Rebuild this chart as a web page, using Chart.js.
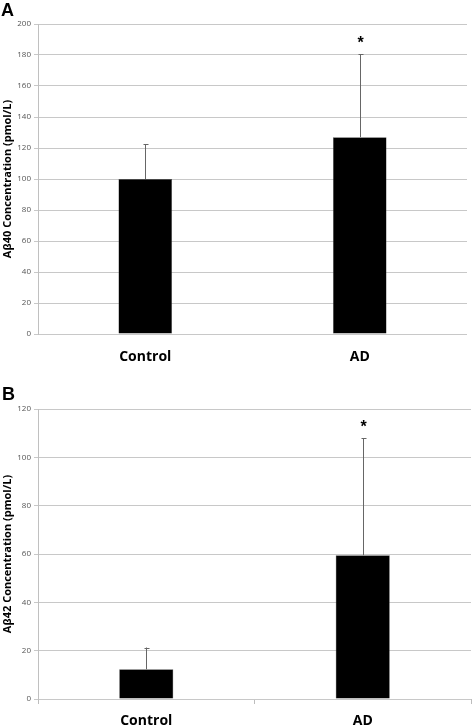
<!DOCTYPE html>
<html>
<head>
<meta charset="utf-8">
<script src="https://cdn.jsdelivr.net/npm/chart.js@4/dist/chart.umd.min.js"></script>
<style>
  html, body { margin:0; padding:0; background:#fff; width:472px; height:726px; overflow:hidden; }
  .wrap { position:absolute; left:0; width:472px; }
  .panel { position:absolute; font-family:"Liberation Sans", Arial, sans-serif; font-weight:bold; font-size:18px; color:#000; line-height:1; }
</style>
</head>
<body>
<div class="wrap" style="top:0;height:370px;"><canvas id="chartA"></canvas></div>
<div class="wrap" style="top:370px;height:356px;"><canvas id="chartB"></canvas></div>
<div class="panel" style="left:1px;top:1px;">A</div>
<div class="panel" style="left:2px;top:385px;">B</div>
<script>
const categories = ['Control', 'AD'];
const ab40Means = [100, 127];
const ab40Errors = [22.5, 53.5];
const ab42Means = [12.3, 59.5];
const ab42Errors = [9, 48.3];
const significance = ['', '*'];
const ab40Ticks = { min: 0, max: 200, step: 20 };
const ab42Ticks = { min: 0, max: 120, step: 20 };

const errorBarPlugin = {
  id: 'errorBars',
  afterDatasetsDraw(chart, args, opts) {
    const ctx = chart.ctx;
    const meta = chart.getDatasetMeta(0);
    const y = chart.scales.y;
    const ds = chart.data.datasets[0];
    ctx.save();
    meta.data.forEach((bar, i) => {
      const v = ds.data[i];
      const e = opts.errors[i];
      const yTop = y.getPixelForValue(v + e);
      const yBase = y.getPixelForValue(v);
      const x = Math.round(bar.x) + 0.5;
      ctx.strokeStyle = '#666';
      ctx.lineWidth = 1;
      ctx.beginPath();
      ctx.moveTo(x, yBase);
      ctx.lineTo(x, yTop);
      ctx.moveTo(x - 2, Math.round(yTop) + 0.5);
      ctx.lineTo(x + 3, Math.round(yTop) + 0.5);
      ctx.stroke();
      if (opts.marks[i]) {
        ctx.fillStyle = '#000';
        ctx.font = 'bold 16px "Liberation Sans", Arial, sans-serif';
        ctx.textAlign = 'center';
        ctx.textBaseline = 'alphabetic';
        ctx.fillText(opts.marks[i], x, yTop - 6);
      }
    });
    ctx.restore();
  }
};

function makeChart(id, means, errors, ticks, title, pad, xHeight, xTicksShown, xPadding) {
  return new Chart(document.getElementById(id), {
    type: 'bar',
    data: {
      labels: categories,
      datasets: [{
        data: means,
        backgroundColor: '#000',
        borderColor: '#555',
        borderWidth: 0.5,
        barPercentage: 0.25,
        categoryPercentage: 1.0
      }]
    },
    options: {
      responsive: true,
      maintainAspectRatio: false,
      animation: false,
      layout: { padding: pad },
      plugins: {
        legend: { display: false },
        tooltip: { enabled: false },
        errorBars: { errors: errors, marks: significance }
      },
      scales: {
        x: {
          offset: true,
          grid: { display: xTicksShown, drawOnChartArea: false, drawTicks: true, tickLength: 5, color: '#bdbdbd' },
          border: { display: false },
          ticks: { color: '#000', padding: xPadding, font: { family: '"Open Sans", sans-serif', size: 14, weight: 'bold' } },
          afterFit(s) { s.height = xHeight; }
        },
        y: {
          min: ticks.min,
          max: ticks.max,
          ticks: { stepSize: ticks.step, color: '#555', padding: 3, font: { family: '"Open Sans", sans-serif', size: 8 } },
          grid: { color: '#c8c8c8', lineWidth: 1, tickLength: 4, drawTicks: true },
          border: { display: true, color: '#c0c0c0' },
          title: { display: true, text: title, color: '#000', padding: { top: 1, bottom: 0 }, font: { family: '"Open Sans", sans-serif', size: 11, weight: 'bold' } },
          afterFit(s) { s.width = 38; }
        }
      }
    },
    plugins: [errorBarPlugin]
  });
}

makeChart('chartA', ab40Means, ab40Errors, ab40Ticks, 'Aβ40 Concentration (pmol/L)', { top: 24, right: 5, left: 0, bottom: 0 }, 36, false, 10);
makeChart('chartB', ab42Means, ab42Errors, ab42Ticks, 'Aβ42 Concentration (pmol/L)', { top: 39, right: 1, left: 0, bottom: 0 }, 27, true, 9);
</script>
</body>
</html>
